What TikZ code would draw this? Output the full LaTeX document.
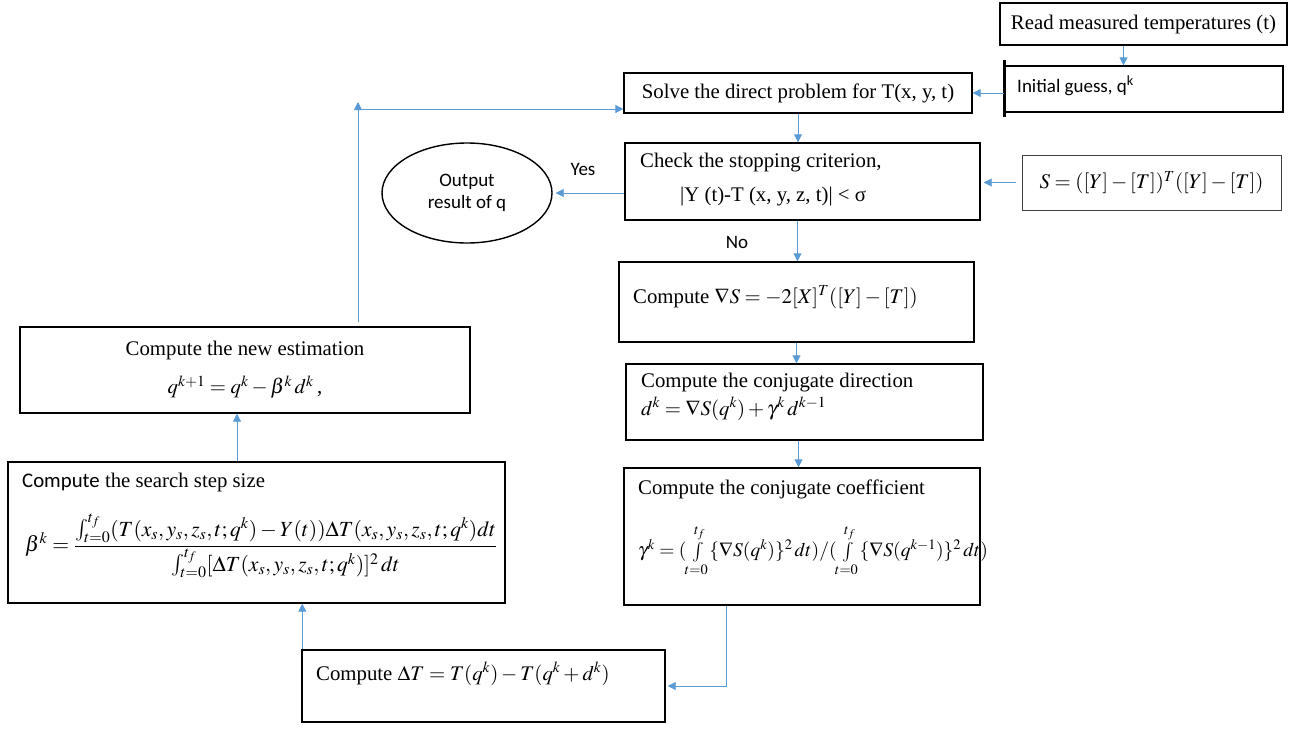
\documentclass[tikz,border=0pt]{standalone}
\usepackage{amsmath}
\usepackage{mathptmx}
\usepackage[no-math]{fontspec}
\setmainfont{Liberation Serif}
\newfontfamily\calibri{Carlito}
\usetikzlibrary{arrows.meta,shapes.geometric}
\definecolor{lineblue}{RGB}{91,155,213}

\begin{document}
\begin{tikzpicture}[x=1pt,y=-1pt,font=\fontsize{20.8}{25}\selectfont,
  box/.style={draw,line width=1.4pt,inner sep=0pt},
  txt/.style={inner sep=0pt,anchor=west},
  sans/.style={font=\calibri\fontsize{19}{22.5}\selectfont},
  arr/.style={draw=lineblue,line width=0.9pt,-{Triangle[length=8pt,width=8pt]}}]
\useasboundingbox (0,0) rectangle (1289,728);

% right column
\node[box,minimum width=287,minimum height=42] (read) at (1143.5,24) {Read measured temperatures (t)};
\node[box,minimum width=278,minimum height=46] (init) at (1144,89) {};
\node[txt,sans] (init-t) at (1017,86) {Initial guess, q\textsuperscript{k}};
\draw[line width=2.6pt] ([yshift=5]init.north west) -- ([yshift=-4]init.south west);
\node[box,draw=darkgray,line width=0.8pt,minimum width=259,minimum height=55] (cost) at (1151.5,182.5) {$S=([Y]-[T])^T([Y]-[T])$};

% middle column
\node[box,minimum width=348,minimum height=40] (solve) at (798,93) {Solve the direct problem for T(x, y, t)};
\node[box,minimum width=355,minimum height=77] (check) at (802.5,181.5) {};
\node[txt] (check-a) at (640,163) {Check the stopping criterion,};
\node[txt] (check-b) at (680,197) {|Y (t)-T (x, y, z, t)| < σ};
\node[box,minimum width=355,minimum height=80] (grad) at (796.5,302) {};
\node[txt] (grad-t) at (633,297) {Compute $\nabla S=-2[X]^T([Y]-[T])$};
\node[box,minimum width=357,minimum height=76] (dir) at (804.5,402) {};
\node[txt] (dir-a) at (641,383) {Compute the conjugate direction};
\node[txt] (dir-b) at (641,409) {$d^k=\nabla S(q^k)+\gamma^k\,d^{k-1}$};
\node[box,minimum width=356,minimum height=137] (coef) at (802,536.5) {};
\node[txt] (coef-a) at (638,489) {Compute the conjugate coefficient};
\node[txt,font=\fontsize{19.5}{23}\selectfont] (coef-b) at (638,551) {$\gamma^k=(\int\limits_{t=0}^{t_f}\{\nabla S(q^k)\}^2\,dt)/(\int\limits_{t=0}^{t_f}\{\nabla S(q^{k-1})\}^2\,dt)$};

% left column
\node[ellipse,draw,line width=1.4pt,minimum width=170,minimum height=100,align=center,sans] (out) at (467,193) {Output\\result of q};
\node[sans] (yes) at (583,169) {Yes};
\node[sans] (no) at (737,242) {No};
\node[box,minimum width=450,minimum height=86,align=center] (est) at (245,370) {Compute the new estimation\\[13pt]$q^{k+1}=q^k-\beta^k\,d^k$\,,};
\node[box,minimum width=497,minimum height=141] (step) at (256.5,532.5) {};
\node[txt] (step-a) at (22,482) {{\calibri Compute} the search step size};
\node[txt,font=\fontsize{21.6}{26}\selectfont] (step-b) at (25,546) {$\beta^k=\dfrac{\int_{t=0}^{t_f}(T(x_s,y_s,z_s,t;q^k)-Y(t))\Delta T(x_s,y_s,z_s,t;q^k)dt}{\int_{t=0}^{t_f}[\Delta T(x_s,y_s,z_s,t;q^k)]^2\,dt}$};
\node[box,minimum width=363,minimum height=72] (dT) at (483.5,686) {};
\node[txt] (dT-t) at (316,674) {Compute $\Delta T=T(q^k)-T(q^k+d^k)$};

% connectors
\coordinate (turn) at (358,109);
\draw[arr] ([xshift=-20]read.south) -- ([xshift=-20]read.south |- init.north);
\draw[arr] (init.west |- solve.east) -- (solve.east);
\draw[arr] (solve.south) -- (solve.south |- check.north);
\draw[arr] ([xshift=-6]cost.west) -- ([xshift=3]cost.west -| check.east);
\draw[arr] (check.west |- out.east) -- ([xshift=3]out.east);
\draw[arr] ([xshift=-5]check.south) -- ([xshift=-5]check.south |- grad.north);
\draw[arr] (grad.south) -- (grad.south |- dir.north);
\draw[arr] ([xshift=-6]dir.south) -- ([xshift=-6]dir.south |- coef.north);
\draw[arr] ([xshift=-76]coef.south) |- ([xshift=2]dT.east);
\draw[arr] ([xshift=1]dT.north west) -- ([xshift=1]dT.north west |- step.south);
\draw[arr] ([xshift=-8]est.south |- step.north) -- ([xshift=-8]est.south);
\draw[arr] ([xshift=113,yshift=4]est.north) -- ([yshift=7]turn);
\draw[arr] (turn) -- (turn -| solve.west);
\end{tikzpicture}
\end{document}
